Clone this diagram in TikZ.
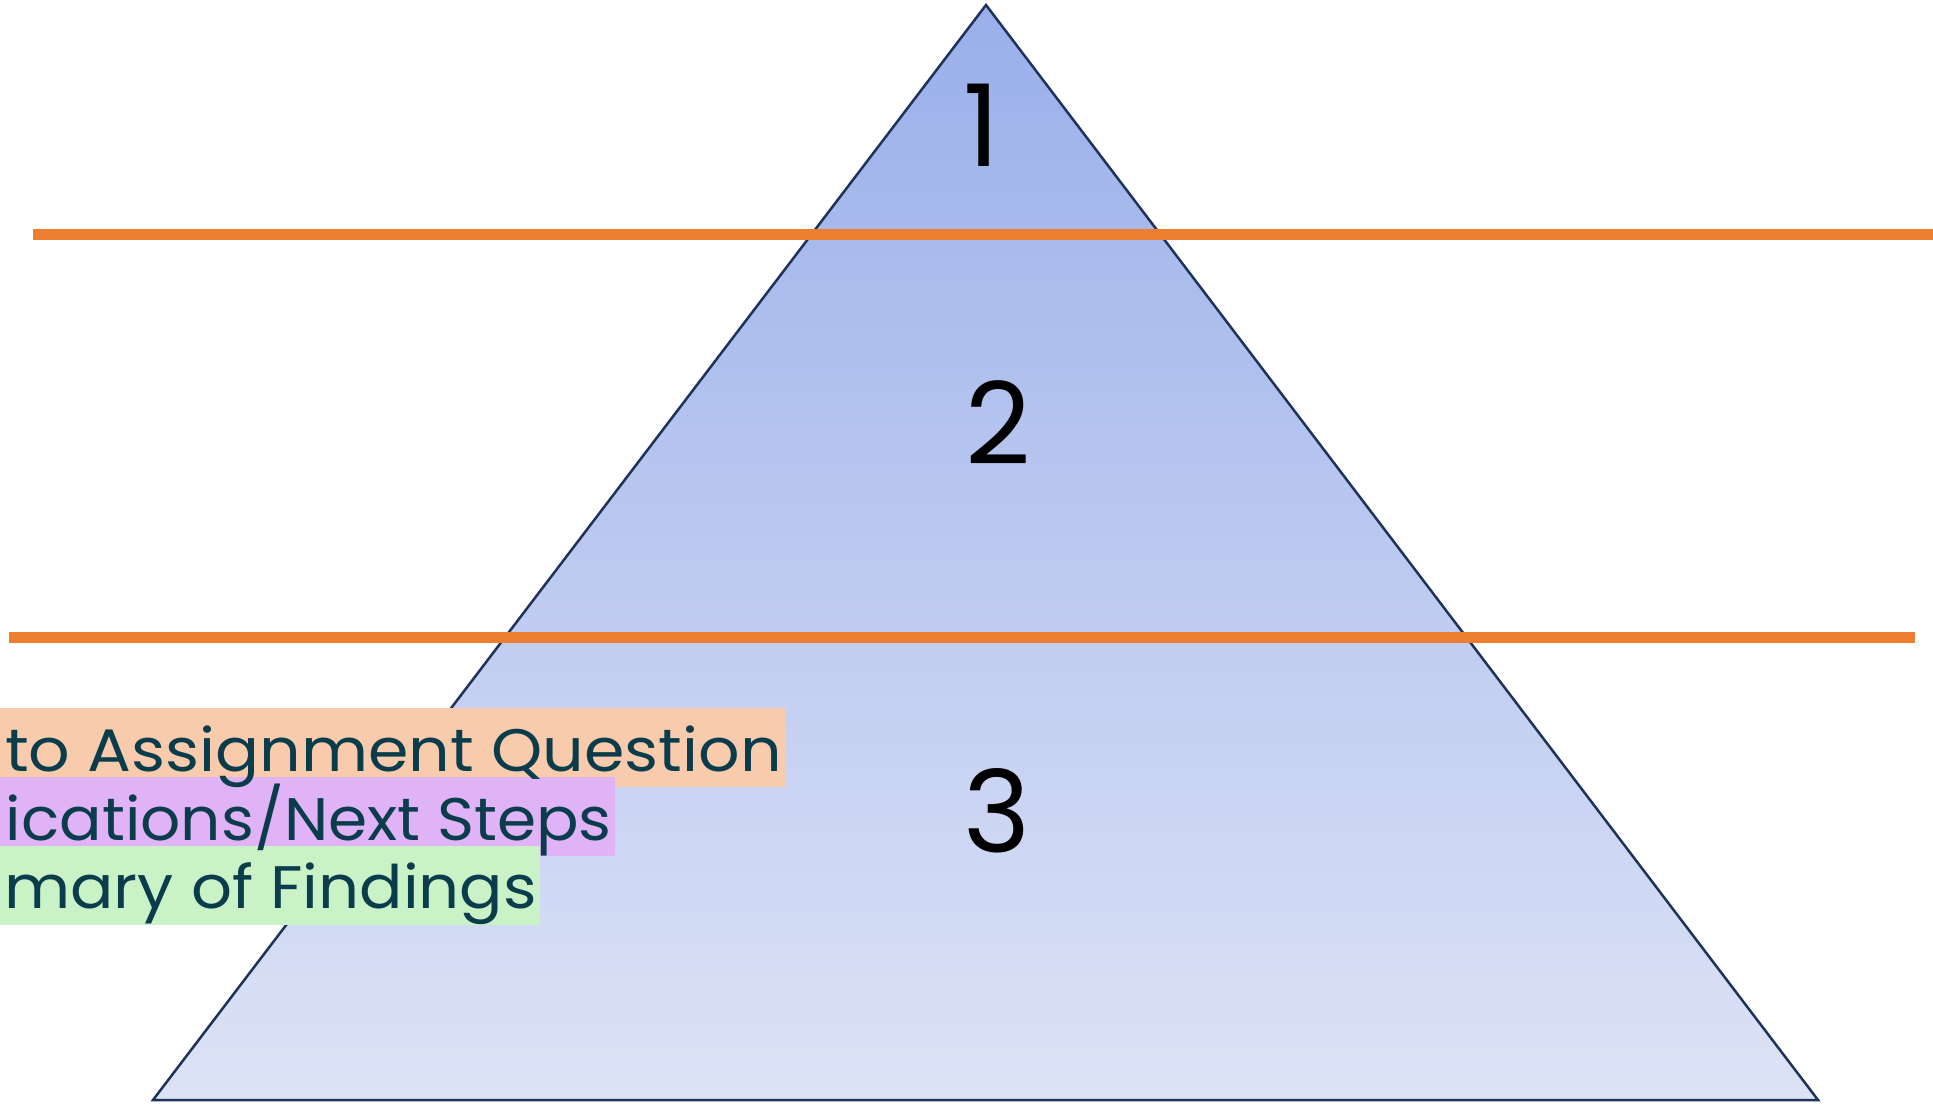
\documentclass[tikz,border=0pt]{standalone}
\usepackage{fontspec}
\setmainfont{Poppins}
\definecolor{triTop}{RGB}{154,175,234}
\definecolor{triBot}{RGB}{221,227,246}
\definecolor{navy}{RGB}{31,50,90}
\definecolor{orangeline}{RGB}{237,125,49}
\definecolor{boxO}{RGB}{248,203,173}
\definecolor{boxP}{RGB}{223,179,245}
\definecolor{boxG}{RGB}{201,242,199}
\definecolor{txt}{RGB}{10,60,76}
\newcommand{\wideTxt}[2]{\scalebox{#1}[1]{#2}}
\begin{document}
\begin{tikzpicture}[x=1pt,y=-1pt]
\tikzset{
  lbl/.style={inner sep=0pt, text=txt, font=\fontsize{60}{60}\selectfont},
  num/.style={inner sep=0pt, text=black, font=\fontsize{114}{114}\selectfont},
  sep/.style={draw=orangeline, line width=11pt},
}
\useasboundingbox (0,0) rectangle (1933,1104);
\coordinate (apex) at (986,5);
\coordinate (br) at (1818,1100);
\coordinate (bl) at (153,1100);
\shade[top color=triTop,bottom color=triBot] (apex) -- (br) -- (bl) -- cycle;
\draw[navy, line width=2.5pt, line join=miter] (apex) -- (br) -- (bl) -- cycle;
\coordinate (l1a) at (33,234.5);
\coordinate (l1b) at (1933,234.5);
\coordinate (l2a) at (9,637.5);
\coordinate (l2b) at (1915,637.5);
\draw[sep] (l1a) -- (l1b);
\draw[sep] (l2a) -- (l2b);
\node[num, anchor=base] (n1) at (982,166) {1};
\node[num, anchor=base] (n2) at (998,464) {2};
\node[num, anchor=base] (n3) at (997,852) {3};
\fill[boxO] (0,708) rectangle (786,787);
\fill[boxP] (0,777) rectangle (615,856);
\fill[boxG] (0,846) rectangle (540,925);
\node[lbl, anchor=base east] (t1) at (782,771) {\wideTxt{1.085}{to Assignment Question}};
\node[lbl, anchor=base east] (t2) at (612,840) {\wideTxt{1.05}{ications/Next Steps}};
\node[lbl, anchor=base east] (t3) at (537,908) {\wideTxt{1.07}{mary of Findings}};
\end{tikzpicture}
\end{document}
